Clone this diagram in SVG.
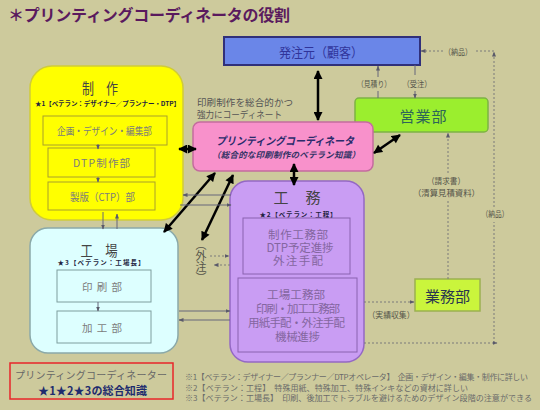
<svg xmlns="http://www.w3.org/2000/svg" width="540" height="410" viewBox="0 0 540 410">
<style>
text{font-family:"Noto Sans CJK JP","Noto Sans CJK SC",sans-serif;}
.ttl{font-size:16px;font-weight:bold;fill:#5A1A5E}
.bh{font-size:15px;fill:#444444;text-anchor:middle}
.sub{font-size:6.5px;font-weight:bold;fill:#1F1F3F;text-anchor:middle}
.in{font-size:10.5px;fill:#7C7C7C;text-anchor:middle}
.inp{font-size:11.5px;fill:#8466A0;text-anchor:middle}
.lbl{font-size:8.5px;fill:#55554A;text-anchor:middle}
.fn{font-size:8px;fill:#6A6A6A}
.thick{stroke:#000;stroke-width:2.5;fill:none;marker-start:url(#bk);marker-end:url(#bk)}
.thin{stroke:#66667A;stroke-width:1;fill:none}
.dot{stroke:#7A7A7A;stroke-width:1;fill:none;stroke-dasharray:2 2}
.ib{fill:none;stroke:#A8A02C;stroke-width:1}
</style>
<defs>
<marker id="bk" viewBox="0 0 10 10" refX="9" refY="5" markerWidth="10" markerHeight="9" markerUnits="userSpaceOnUse" orient="auto-start-reverse"><path d="M0,0 L10,5 L0,10 z" fill="#000"/></marker>
<marker id="gh" viewBox="0 0 10 10" refX="9" refY="5" markerWidth="5" markerHeight="5" markerUnits="userSpaceOnUse" orient="auto"><path d="M0,1 L10,5 L0,9 z" fill="#5A5A6A"/></marker>
</defs>
<rect x="0" y="0" width="540" height="410" fill="#CDCA9C"/>
<g id="title"><text class="ttl" x="8" y="21" textLength="282">＊プリンティングコーディネータの役割</text></g>

<g id="client">
<rect x="224" y="37" width="196" height="28" fill="#6A86E8" stroke="#30307A" stroke-width="2"/>
<text x="321" y="57" font-size="13" fill="#30349A" text-anchor="middle" textLength="84" lengthAdjust="spacingAndGlyphs">発注元（顧客）</text>
</g>

<g id="sales">
<rect x="355" y="98" width="133" height="34" rx="4" fill="#9BEE2E" stroke="#7DB344" stroke-width="1.5"/>
<text x="423" y="122" font-size="15" fill="#2E6658" text-anchor="middle" textLength="47">営業部</text>
</g>

<g id="seisaku">
<rect x="30" y="66" width="153" height="154" rx="22" fill="#FFFF00" stroke="#CFCB3A" stroke-width="1.5"/>
<text class="bh" x="100" y="94" textLength="36" lengthAdjust="spacingAndGlyphs">制　作</text>
<text class="sub" x="107.5" y="106" textLength="145">★1【ベテラン：デザイナー／プランナー・DTP】</text>
<rect class="ib" x="43" y="116" width="124" height="29"/>
<text class="in" x="104.5" y="135" textLength="95" lengthAdjust="spacingAndGlyphs">企画・デザイン・編集部</text>
<rect class="ib" x="48" y="148" width="107" height="29"/>
<text class="in" x="101.5" y="167" font-size="11" textLength="57">DTP制作部</text>
<rect class="ib" x="48" y="182" width="107" height="28"/>
<text class="in" x="102.5" y="201" font-size="11" textLength="65" lengthAdjust="spacingAndGlyphs">製版（CTP）部</text>
</g>

<g id="kojo">
<rect x="30" y="228" width="148" height="125" rx="18" fill="#DDFFFF" stroke="#8AA9A9" stroke-width="1.5"/>
<text class="bh" x="99" y="256" fill="#3A3A3A" textLength="37" lengthAdjust="spacingAndGlyphs">工　場</text>
<text class="sub" x="101" y="265" textLength="87">★3【ベテラン：工場長】</text>
<rect x="57" y="270" width="94" height="32" fill="none" stroke="#7E9E9E"/>
<text class="in" x="102" y="291" font-size="12.5" textLength="40">印刷部</text>
<rect x="57" y="311" width="94" height="32" fill="none" stroke="#7E9E9E"/>
<text class="in" x="102" y="332" font-size="12.5" textLength="40">加工部</text>
</g>

<g id="coordinator">
<rect x="193" y="122" width="180" height="49" rx="7" fill="#F891CB" stroke="#C46C9E" stroke-width="1.5"/>
<text x="285" y="145" font-size="11" font-weight="bold" font-style="italic" fill="#2B2B6B" text-anchor="middle" textLength="138" lengthAdjust="spacingAndGlyphs">プリンティングコーディネータ</text>
<text x="286" y="158" font-size="8.5" font-weight="bold" font-style="italic" fill="#333366" text-anchor="middle" textLength="148">（総合的な印刷制作のベテラン知識）</text>
</g>

<g id="note-coord">
<text x="197" y="106" font-size="9.5" fill="#555555" textLength="96">印刷制作を総合的かつ</text>
<text x="197" y="118" font-size="9.5" fill="#555555" textLength="85" lengthAdjust="spacingAndGlyphs">強力にコーディネート</text>
</g>

<g id="komu">
<rect x="230" y="181" width="134" height="181" rx="18" fill="#C99DF3" stroke="#9468C4" stroke-width="1.5"/>
<text class="bh" x="297" y="203" fill="#3C3C64" textLength="47">工　務</text>
<text class="sub" x="298" y="217" textLength="77">★2【ベテラン：工程】</text>
<rect x="243" y="218" width="107" height="56" fill="none" stroke="#8A62B0"/>
<text class="inp" x="298" y="239" textLength="60">制作工務部</text>
<text class="inp" x="300" y="252" textLength="67">DTP予定進捗</text>
<text class="inp" x="298" y="265" textLength="50">外注手配</text>
<rect x="238" y="278" width="119" height="74" fill="none" stroke="#8A62B0"/>
<text class="inp" x="296" y="299" font-size="11" textLength="58">工場工務部</text>
<text class="inp" x="298" y="313" font-size="11" textLength="84">印刷・加工工務部</text>
<text class="inp" x="296.5" y="327" font-size="11" textLength="97">用紙手配・外注手配</text>
<text class="inp" x="297.5" y="341" font-size="11" textLength="45">機械進捗</text>
</g>

<g id="gyomu">
<rect x="415" y="279" width="65" height="32" fill="#CAF53C" stroke="#9BB050" stroke-width="1.5"/>
<text x="447.5" y="302" font-size="15" fill="#2A3550" text-anchor="middle" textLength="45">業務部</text>
</g>

<g id="summary">
<rect x="10" y="363" width="163" height="36" fill="none" stroke="#E8262A" stroke-width="1.5"/>
<text x="91" y="379" font-size="10" fill="#666666" text-anchor="middle" textLength="152">プリンティングコーディネーター</text>
<text x="92.5" y="395" font-size="11" font-weight="bold" fill="#1E2C6E" text-anchor="middle" textLength="109">★1★2★3の総合知識</text>
</g>

<g id="footnotes">
<text class="fn" x="185" y="380" textLength="343">※1【ベテラン：デザイナー／プランナー／DTPオペレータ】　企画・デザイン・編集・制作に詳しい</text>
<text class="fn" x="185" y="390.5" textLength="283">※2【ベテラン：工程】　特殊用紙、特殊加工、特殊インキなどの資材に詳しい</text>
<text class="fn" x="185" y="401" textLength="347" lengthAdjust="spacingAndGlyphs">※3【ベテラン：工場長】　印刷、後加工でトラブルを避けるためのデザイン段階の注意ができる</text>
</g>

<g id="connectors">
<line class="thick" x1="318" y1="71" x2="318" y2="120"/>
<line class="thick" x1="179" y1="149" x2="196" y2="149"/>
<line class="thick" x1="374" y1="153" x2="400" y2="135"/>
<line class="thick" x1="294" y1="164" x2="294" y2="185"/>
<line class="thick" x1="215" y1="173" x2="164" y2="232"/>
<line class="thick" x1="233" y1="175" x2="202" y2="240"/>

<path class="thin" d="M98,144 V149" marker-end="url(#gh)"/>
<path class="thin" d="M98,177 V182" marker-end="url(#gh)"/>
<path class="thin" d="M98,302 V311" marker-end="url(#gh)"/>
<path class="thin" d="M103,212 V229" marker-end="url(#gh)"/>
<path class="thin" d="M117,229 V214" marker-end="url(#gh)"/>
<path class="thin" d="M231,195 H183" marker-end="url(#gh)"/>
<path class="thin" d="M180,205 H231" marker-end="url(#gh)"/>
<path class="thin" d="M179,311 H230" marker-end="url(#gh)"/>
<path class="thin" d="M230,320 H179" marker-end="url(#gh)"/>
<path class="dot" d="M210,256 H229" marker-end="url(#gh)"/>
<path class="dot" d="M230,265 H214" marker-end="url(#gh)"/>
<text x="201" y="239" font-size="11" fill="#55554A" style="writing-mode:vertical-rl">（外注）</text>

<path class="thin" d="M378,77 V66" marker-end="url(#gh)" stroke="#777"/>
<path class="thin" d="M378,91 V98" stroke="#777"/>
<path class="thin" d="M415,65 V75" stroke="#777"/>
<path class="thin" d="M415,91 V98" marker-end="url(#gh)" stroke="#777"/>
<text class="lbl" x="374" y="87" textLength="34" lengthAdjust="spacingAndGlyphs">（見積り）</text>
<text class="lbl" x="417" y="87" textLength="29" lengthAdjust="spacingAndGlyphs">（受注）</text>

<path class="dot" d="M443,51 H421" marker-end="url(#gh)"/>
<path class="dot" d="M494,51 H474"/>
<text class="lbl" x="458" y="55" textLength="28" lengthAdjust="spacingAndGlyphs">（納品）</text>
<path class="dot" d="M494,207 V52" marker-end="url(#gh)"/>
<path class="dot" d="M494,343 V222"/>
<text class="lbl" x="495" y="217" textLength="27" lengthAdjust="spacingAndGlyphs">（納品）</text>
<path class="dot" d="M364,343 H497" marker-end="url(#gh)"/>

<path class="dot" d="M364,302 H414" marker-end="url(#gh)"/>
<text class="lbl" x="391" y="318" textLength="47" lengthAdjust="spacingAndGlyphs">（実績収集）</text>

<path class="dot" d="M448,279 V201"/>
<path class="dot" d="M448,173 V133" marker-end="url(#gh)"/>
<text class="lbl" x="446" y="184" textLength="38" lengthAdjust="spacingAndGlyphs">（請求書）</text>
<text class="lbl" x="446.5" y="196" textLength="67" lengthAdjust="spacingAndGlyphs">（清算見積資料）</text>
</g>
</svg>
